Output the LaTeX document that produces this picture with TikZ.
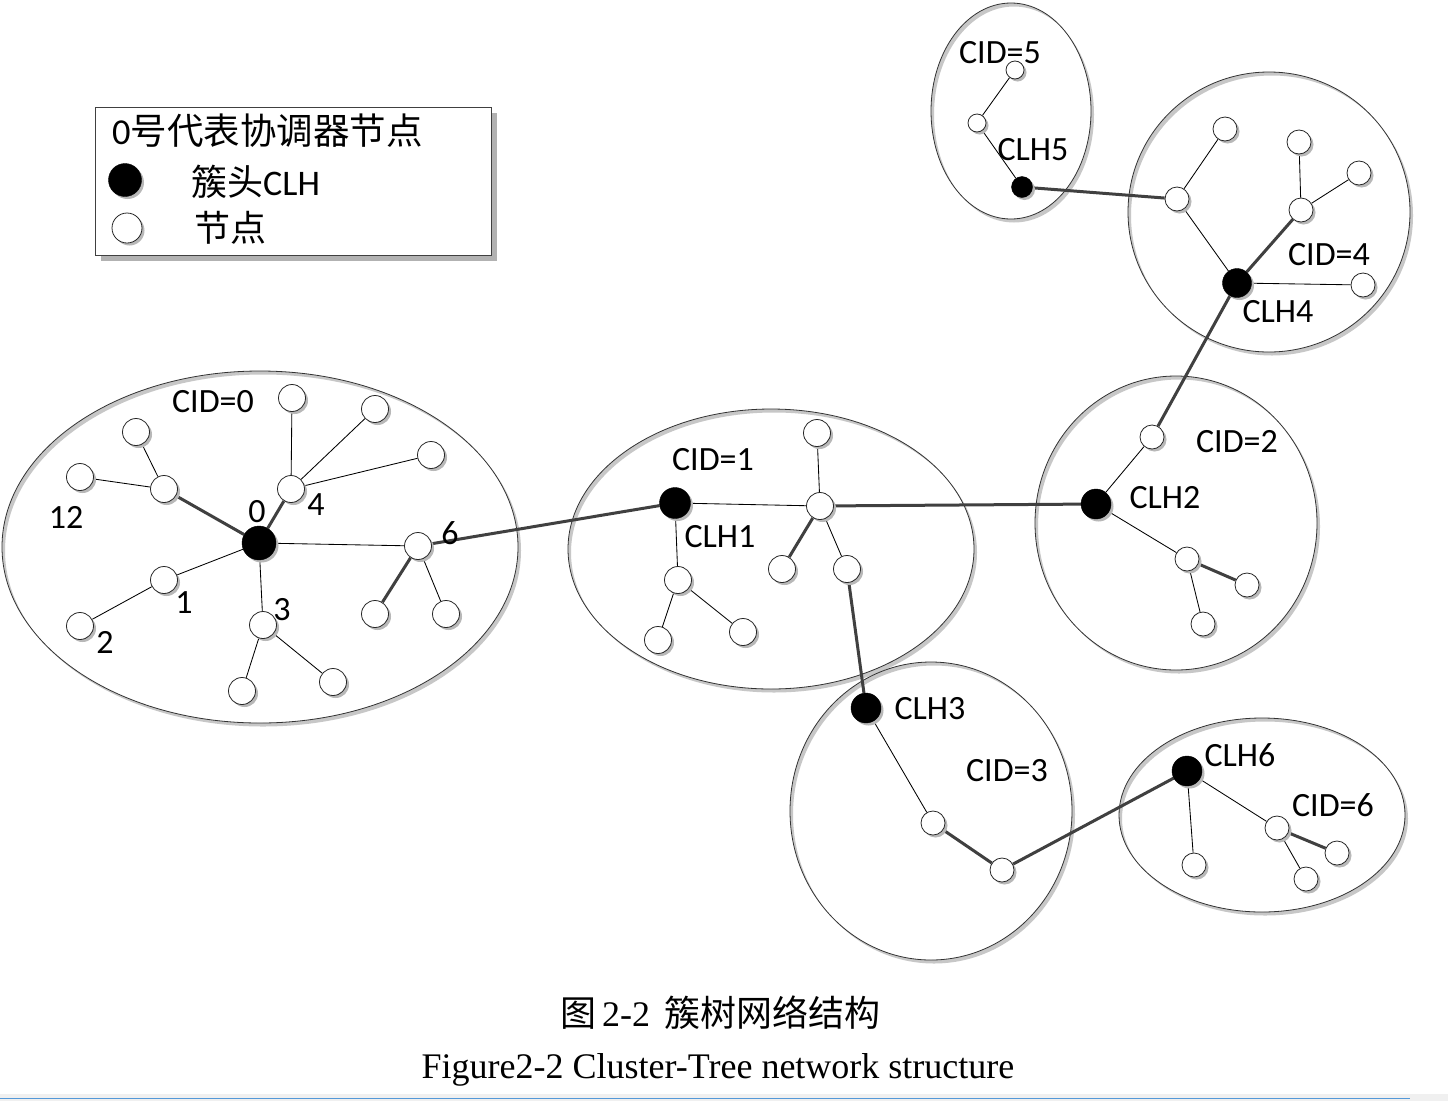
\documentclass[tikz,border=0pt]{standalone}
\usepackage{fontspec}
\setmainfont{Carlito}
\newfontfamily\cjk{Noto Sans CJK SC}
\newfontfamily\serifen{Liberation Serif}
\usetikzlibrary{shadows}
\pgfdeclarelayer{bg}
\pgfdeclarelayer{paper}
\pgfsetlayers{paper,bg,main}
\begin{document}
\begin{tikzpicture}[x=1pt,y=-1pt,
  shd/.style={drop shadow={shadow xshift=2.5pt,shadow yshift=-2.5pt,fill=black!28,opacity=1}},
  wnode/.style={circle,draw=black!85,line width=0.8pt,fill=white,inner sep=0pt,minimum size=27pt,shd},
  wsmall/.style={wnode,minimum size=24pt},
  wtiny/.style={wnode,minimum size=18pt},
  bnode/.style={circle,draw=black,fill=black,inner sep=0pt,minimum size=31pt,shd},
  thinl/.style={draw=black,line width=0.85pt},
  thickl/.style={draw=black!75,line width=3pt},
  lbl/.style={inner sep=0pt,font=\fontsize{34}{40}\selectfont},
  clust/.style={draw=black!80,line width=0.8pt},
  clshd/.style={fill=black!22,even odd rule}]
\useasboundingbox (0,0) rectangle (1448,1101);
\begin{pgfonlayer}{paper}
\fill[white] (0,0) rectangle (1448,1101);
\fill[black!6] (0,1094) rectangle (1448,1101);
\draw[cyan!60!blue!70,line width=1.5pt] (0,1098.5) -- (1410,1098.5);
\end{pgfonlayer}

% ---------- legend ----------
\fill[black!30] (101,113) rectangle (497,261);
\draw[fill=white,draw=black!75,line width=0.9pt] (95,107) rectangle (491,255);
\node[anchor=west,inner sep=0pt,font=\fontsize{36.5}{40}\selectfont] (lg1) at (112,131) {0\cjk 号代表协调器节点};
\node[bnode,minimum size=33pt] (lgb) at (125,180) {};
\node[anchor=west,inner sep=0pt,font=\fontsize{36}{40}\selectfont] (lg2) at (191,182) {{\cjk 簇头}CLH};
\node[wnode,minimum size=30pt] (lgw) at (127,228) {};
\node[anchor=west,inner sep=0pt,font=\cjk\fontsize{36}{40}\selectfont] (lg3) at (194,228) {节点};

% ---------- cluster 0 ----------
\node[bnode,minimum size=34pt] (h0) at (259,543) {};
\node[wnode] (a4) at (291,489) {};
\node[wnode] (a4t) at (292,398) {};
\node[wnode] (a4r1) at (375,409) {};
\node[wnode] (a4r2) at (431,455) {};
\node[wnode] (aul) at (164,489) {};
\node[wnode] (aul1) at (136,432) {};
\node[wnode] (aul2) at (80,477) {};
\node[wnode] (a1) at (164,580) {};
\node[wnode] (a2) at (80,626) {};
\node[wnode] (a3) at (263,625) {};
\node[wnode] (a3l) at (242,691) {};
\node[wnode] (a3r) at (333,682) {};
\node[wnode] (a6) at (418,546) {};
\node[wnode] (a6l) at (375,614) {};
\node[wnode] (a6r) at (446,614) {};
\node[lbl] (t0) at (213,402) {CID=0};
\node[lbl] (n12) at (66,517) {12};
\node[lbl] (n0) at (257,512) {0};
\node[lbl] (n4) at (316,505) {4};
\node[lbl] (n6) at (450,533) {6};
\node[lbl] (n1) at (184,603) {1};
\node[lbl] (n2) at (105,642) {2};
\node[lbl] (n3) at (282,610) {3};

% ---------- cluster 1 ----------
\node[bnode] (h1) at (675,503) {};
\node[wnode] (b1) at (820,506) {};
\node[wnode] (b1t) at (817,433) {};
\node[wnode] (b1l) at (782,569) {};
\node[wnode] (b1r) at (847,569) {};
\node[wnode] (b2) at (678,580) {};
\node[wnode] (b2l) at (658,640) {};
\node[wnode] (b2r) at (743,632) {};
\node[lbl] (t1) at (713,460) {CID=1};
\node[lbl] (l1) at (720,537) {CLH1};

% ---------- cluster 2 ----------
\node[bnode,minimum size=30pt] (h2) at (1096,504) {};
\node[wsmall] (c1) at (1152,437) {};
\node[wsmall] (c2) at (1187,559) {};
\node[wsmall] (c2r) at (1247,585) {};
\node[wsmall] (c2b) at (1203,624) {};
\node[lbl] (t2) at (1237,442) {CID=2};
\node[lbl] (l2) at (1165,498) {CLH2};

% ---------- cluster 4 ----------
\node[bnode,minimum size=29pt] (h4) at (1237,283) {};
\node[wsmall] (d1) at (1177,199) {};
\node[wsmall] (d1t) at (1225,129) {};
\node[wsmall] (d2) at (1301,210) {};
\node[wsmall] (d2t) at (1299,142) {};
\node[wsmall] (d2r) at (1359,173) {};
\node[wsmall] (d3) at (1363,285) {};
\node[lbl] (t4) at (1329,255) {CID=4};
\node[lbl] (l4) at (1278,312) {CLH4};

% ---------- cluster 5 ----------
\node[bnode,minimum size=21pt] (h5) at (1022,187) {};
\node[wtiny] (e1) at (977,123) {};
\node[wtiny] (e2) at (1015,70) {};
\node[lbl] (t5) at (1000,53) {CID=5};
\node[lbl] (l5) at (1033,150) {CLH5};

% ---------- cluster 3 ----------
\node[bnode,minimum size=30pt] (h3) at (866,708) {};
\node[wsmall] (f1) at (933,823) {};
\node[wsmall] (f2) at (1002,870) {};
\node[lbl] (l3) at (930,709) {CLH3};
\node[lbl] (t3) at (1007,771) {CID=3};

% ---------- cluster 6 ----------
\node[bnode,minimum size=30pt] (h6) at (1187,771) {};
\node[wsmall] (g1) at (1194,865) {};
\node[wsmall] (g2) at (1277,828) {};
\node[wsmall] (g2r) at (1337,853) {};
\node[wsmall] (g2b) at (1306,879) {};
\node[lbl] (l6) at (1240,755) {CLH6};
\node[lbl] (t6) at (1333,805) {CID=6};

% ---------- caption ----------
\node[inner sep=0pt,font=\fontsize{36}{42}\selectfont] (cap1) at (720,1013) {{\cjk 图}\,{\serifen 2-2}\hspace{14pt}{\cjk 簇树网络结构}};
\node[inner sep=0pt,font=\serifen\fontsize{36}{42}\selectfont] (cap2) at (718,1070) {Figure2-2 Cluster-Tree network structure};

\begin{pgfonlayer}{bg}
  % cluster shadows (crescent at lower right) and outlines
  \foreach \cx/\cy/\rx/\ry in {260/547/258/176, 771/549/203/140, 1176/523/141/147, 1269/212/141/140, 1011/111/80/108, 931/811/141/149, 1262/815/143/97}{
    \fill[clshd] (\cx+3,\cy+3.5) ellipse [x radius=\rx, y radius=\ry] (\cx,\cy) ellipse [x radius=\rx, y radius=\ry];
  }
  \foreach \cx/\cy/\rx/\ry in {260/547/258/176, 771/549/203/140, 1176/523/141/147, 1269/212/141/140, 1011/111/80/108, 931/811/141/149, 1262/815/143/97}{
    \draw[clust] (\cx,\cy) ellipse [x radius=\rx, y radius=\ry];
  }
  % thick links
  \draw[thickl] (h0) -- (a4);
  \draw[thickl] (h0) -- (aul);
  \draw[thickl] (a6) -- (a6l);
  \draw[thickl] (a6) -- (h1);
  \draw[thickl] (b1) -- (b1l);
  \draw[thickl] (b1r) -- (h3);
  \draw[thickl] (b1) -- (h2);
  \draw[thickl] (c1) -- (h4);
  \draw[thickl] (c2) -- (c2r);
  \draw[thickl] (h4) -- (d2);
  \draw[thickl] (d1) -- (h5);
  \draw[thickl] (f1) -- (f2);
  \draw[thickl] (f2) -- (h6);
  \draw[thickl] (g2) -- (g2r);
  % thin links
  \draw[thinl] (a4) -- (a4t);
  \draw[thinl] (a4) -- (a4r1);
  \draw[thinl] (a4) -- (a4r2);
  \draw[thinl] (aul) -- (aul1);
  \draw[thinl] (aul) -- (aul2);
  \draw[thinl] (h0) -- (a1);
  \draw[thinl] (a1) -- (a2);
  \draw[thinl] (h0) -- (a3);
  \draw[thinl] (a3) -- (a3l);
  \draw[thinl] (a3) -- (a3r);
  \draw[thinl] (h0) -- (a6);
  \draw[thinl] (a6) -- (a6r);
  \draw[thinl] (h1) -- (b1);
  \draw[thinl] (b1) -- (b1t);
  \draw[thinl] (b1) -- (b1r);
  \draw[thinl] (h1) -- (b2);
  \draw[thinl] (b2) -- (b2l);
  \draw[thinl] (b2) -- (b2r);
  \draw[thinl] (h2) -- (c1);
  \draw[thinl] (h2) -- (c2);
  \draw[thinl] (c2) -- (c2b);
  \draw[thinl] (h4) -- (d1);
  \draw[thinl] (d1) -- (d1t);
  \draw[thinl] (d2) -- (d2t);
  \draw[thinl] (d2) -- (d2r);
  \draw[thinl] (h4) -- (d3);
  \draw[thinl] (h5) -- (e1);
  \draw[thinl] (e1) -- (e2);
  \draw[thinl] (h3) -- (f1);
  \draw[thinl] (h6) -- (g1);
  \draw[thinl] (h6) -- (g2);
  \draw[thinl] (g2) -- (g2b);
\end{pgfonlayer}
\end{tikzpicture}
\end{document}
